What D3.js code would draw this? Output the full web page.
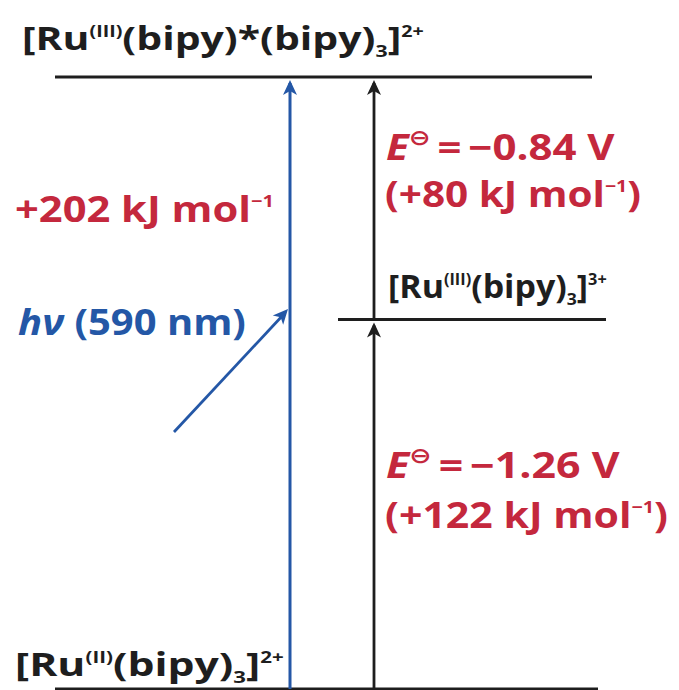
<!DOCTYPE html>
<html>
<head>
<meta charset="utf-8">
<script src="https://cdn.jsdelivr.net/npm/d3@7"></script>
<style>
  body { margin: 0; background: #fff; }
  text { font-family: "Open Sans", "Noto Sans", sans-serif; font-weight: 700; }
</style>
</head>
<body>
<svg id="chart"></svg>
<script>
// energy level diagram for [Ru(bipy)3]2+ photo-oxidation

// data
const levelKeys = ['ground', 'oxidised', 'excited']
const levelEnergy = [0, 122, 202] // kJ mol-1 above ground state
const levelLabels = [
  [['[Ru'], ['(II)', 'sup'], ['(bipy)'], ['3', 'sub'], [']'], ['2+', 'sup']],
  [['[Ru'], ['(III)', 'sup'], ['(bipy)'], ['3', 'sub'], [']'], ['3+', 'sup']],
  [['[Ru'], ['(III)', 'sup'], ['(bipy)*(bipy)'], ['3', 'sub'], [']'], ['2+', 'sup']]
]
const stepFrom = [0, 1]
const stepTo = [1, 2]
const stepPotential = ['\u22121.26 V', '\u22120.84 V']
const stepEnergy = [122, 80]
const photonEnergy = 202
const photonWavelength = 590

let width = 679
let height = 690

const svg = d3.select('#chart').attr('width', width).attr('height', height)

// scales
const yScale = d3.scaleLinear().domain([0, 202]).range([689, 77])

// horizontal extent of each level line
const levelX = {
  ground: [55, 598],
  oxidised: [338, 606],
  excited: [55, 592]
}
const photonX = 290
const redoxX = 374
const red = '#c4283d'
const blue = '#2457a6'
const ink = '#1e1e1e'

// rich text helper: parts are [string, 'sup'|'sub'|null, italic, family]
// the text is stretched horizontally so it spans x0..x1
function richText(parts, size, x0, x1, y, color) {
  let t = svg.append('text').style('fill', color)
  let shift = 0
  parts.forEach(p => {
    let target = p[1] === 'sup' ? -0.42 * size : p[1] === 'sub' ? 0.22 * size : 0
    let fs = p[1] === 'sup' ? size * (p[4] || 0.48) : p[1] === 'sub' ? size * 0.52 : size
    let ts = t.append('tspan')
      .attr('dy', target - shift)
      .style('font-size', fs + 'px')
      .text(p[0])
    if (p[2]) ts.style('font-style', 'italic')
    if (p[3]) ts.style('font-family', p[3])
    shift = target
  })
  let w = t.node().getBBox().width
  t.attr('transform', `translate(${x0},${y}) scale(${(x1 - x0) / w},1)`)
  return t
}

// level lines
svg.selectAll('line.level')
  .data(levelKeys)
  .join('line')
  .attr('class', 'level')
  .attr('x1', d => levelX[d][0])
  .attr('x2', d => levelX[d][1])
  .attr('y1', (d, i) => yScale(levelEnergy[i]))
  .attr('y2', (d, i) => yScale(levelEnergy[i]))
  .style('stroke', ink)
  .style('stroke-width', 3)

// level labels
const labelPos = [
  { x0: 15, x1: 284, dy: -13 },
  { x0: 388, x1: 607, dy: -21 },
  { x0: 22, x1: 424, dy: -27 }
]
levelLabels.forEach((parts, i) => {
  richText(parts, 32, labelPos[i].x0, labelPos[i].x1,
    yScale(levelEnergy[i]) + labelPos[i].dy, ink)
})

function arrowHead(x, y, angle, color) {
  svg.append('path')
    .attr('d', 'M0,0 L-7,15 L0,11 L7,15 Z')
    .attr('transform', `translate(${x},${y}) rotate(${angle})`)
    .style('fill', color)
}

// photon absorption arrow (vertical, blue)
svg.append('line')
  .attr('x1', photonX).attr('x2', photonX)
  .attr('y1', yScale(0)).attr('y2', yScale(photonEnergy) + 6)
  .style('stroke', blue).style('stroke-width', 3)
arrowHead(photonX, yScale(photonEnergy) + 3, 0, blue)

// incoming photon (diagonal)
svg.append('line')
  .attr('x1', 174).attr('y1', 432)
  .attr('x2', photonX - 6).attr('y2', 314)
  .style('stroke', blue).style('stroke-width', 2.8)
arrowHead(photonX - 2, 309, 42, blue)

// redox steps (vertical, black)
stepFrom.forEach((f, i) => {
  let y1 = yScale(levelEnergy[f])
  let y2 = yScale(levelEnergy[stepTo[i]])
  svg.append('line')
    .attr('x1', redoxX).attr('x2', redoxX)
    .attr('y1', y1).attr('y2', y2 + 6)
    .style('stroke', ink).style('stroke-width', 2.8)
  arrowHead(redoxX, y2 + 3, 0, ink)
})

// step annotations (red)
const stepLabelY = [[478, 528], [160, 207]]
const stepLabelX1 = [[620, 668], [615, 641]]
stepFrom.forEach((f, i) => {
  richText([
    ['E', null, true],
    ['\u2296', 'sup', false, 'DejaVu Sans', 0.62],
    ['\u2009=\u2009' + stepPotential[i]]
  ], 35, 386, stepLabelX1[i][0], stepLabelY[i][0], red)
  richText([
    ['(+' + stepEnergy[i] + ' kJ mol'],
    ['\u22121', 'sup'],
    [')']
  ], 35, 385, stepLabelX1[i][1], stepLabelY[i][1], red)
})

// photon energy
richText([['+' + photonEnergy + ' kJ mol'], ['\u22121', 'sup']], 35, 15, 274, 222, red)

// photon wavelength
richText([['h\u03bd', null, true], [' (' + photonWavelength + ' nm)']], 35, 18, 246, 335, blue)
</script>
</body>
</html>
